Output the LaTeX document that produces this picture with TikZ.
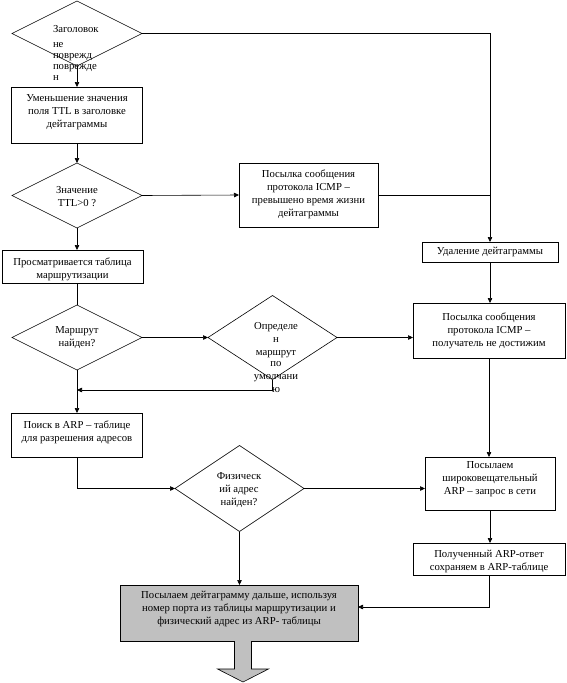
\documentclass[tikz,border=0pt]{standalone}
\usepackage{fontspec}
\setmainfont{Liberation Serif}
\usetikzlibrary{arrows.meta,shapes.geometric}
\begin{document}
\begin{tikzpicture}[x=1pt,y=-1pt,
  every node/.style={outer sep=0pt},
  txt/.style={font=\fontsize{10.7}{13}\selectfont, align=center, inner sep=0pt},
  ltxt/.style={font=\fontsize{10.7}{13}\selectfont, inner sep=0pt},
  box/.style={draw, line width=0.6pt, inner sep=0pt},
  dia/.style={draw, diamond, line width=0.6pt, inner sep=0pt},
  ln/.style={line width=0.6pt},
  arr/.style={line width=0.6pt, -{Triangle[length=5pt,width=4.5pt]}}]
\useasboundingbox (0,0) rectangle (566,683);
% diamonds
\node[dia, minimum width=130, minimum height=65] (d1) at (77,33.5) {};
\node[dia, minimum width=130, minimum height=65] (d2) at (77,195.5) {};
\node[dia, minimum width=130, minimum height=65] (d3) at (77,337.5) {};
\node[dia, minimum width=129, minimum height=84] (d4) at (272.5,337.5) {};
\node[dia, minimum width=129, minimum height=86] (d5) at (239.5,488.5) {};
% diamond texts
\node[ltxt, anchor=base west] (t1a) at (53,32.5) {Заголовок};
\node[ltxt, anchor=base west] (t1b) at (53,47.5) {не};
\node[ltxt, anchor=base west] (t1c) at (53,58.5) {поврежд};
\node[ltxt, anchor=base west] (t1d) at (53,69.5) {поврежде};
\node[ltxt, anchor=base west] (t1e) at (53,80.5) {н};
\node[txt] (t2) at (77,197) {Значение\\TTL>0 ?};
\node[txt] (t3) at (77,337.5) {Маршрут\\найден?};
\node[ltxt, anchor=base] (t4a) at (276,329.5) {Определе};
\node[ltxt, anchor=base] (t4b) at (276,342.5) {н};
\node[ltxt, anchor=base] (t4c) at (276,355) {маршрут};
\node[ltxt, anchor=base] (t4d) at (276,366.5) {по};
\node[ltxt, anchor=base] (t4e) at (276,379.5) {умолчани};
\node[ltxt, anchor=base] (t4f) at (276,392) {ю};
\node[txt] (t5) at (239,490.5) {Физическ\\ий адрес\\найден?};
% boxes
\node[box, minimum width=131, minimum height=56] (b1) at (77,115) {};
\node[box, minimum width=139, minimum height=64] (icmp1) at (308.5,195) {};
\node[box, minimum width=141, minimum height=33] (b2) at (72.5,266.5) {};
\node[box, minimum width=136, minimum height=20] (del) at (490,252) {};
\node[box, minimum width=152, minimum height=55] (icmp2) at (489,330.5) {};
\node[box, minimum width=131, minimum height=44] (b3) at (77,435) {};
\node[box, minimum width=130, minimum height=53] (arpb) at (490,483.5) {};
\node[box, minimum width=152, minimum height=32] (recv) at (489,559) {};
\node[box, fill={rgb,255:red,192;green,192;blue,192}, minimum width=238, minimum height=56] (gray) at (239,613) {};
% box texts
\node[txt] (tb1) at ([yshift=3pt]b1.center) {Уменьшение значения\\поля TTL в заголовке\\дейтаграммы};
\node[txt] (ti1) at ([yshift=1pt]icmp1.center) {Посылка сообщения\\протокола ICMP –\\превышено время жизни\\дейтаграммы};
\node[txt] (tb2) at ([yshift=-2.5pt]b2.center) {Просматривается таблица\\маршрутизации};
\node[txt] (tdel) at (del.center) {Удаление дейтаграммы};
\node[txt] (ti2) at (icmp2.center) {Посылка сообщения\\протокола ICMP –\\получатель не достижим};
\node[txt] (tb3) at ([yshift=3pt]b3.center) {Поиск в ARP – таблице\\для разрешения адресов};
\node[txt] (tarp) at ([yshift=4pt]arpb.center) {Посылаем\\широковещательный\\ARP – запрос в сети};
\node[txt] (trecv) at ([yshift=-2pt]recv.center) {Полученный ARP-ответ\\сохраняем в ARP-таблице};
\node[txt] (tgray) at ([yshift=4pt]gray.center) {Посылаем дейтаграмму дальше, используя\\номер порта из таблицы маршрутизации и\\физический адрес из ARP- таблицы};
% junction
\coordinate (j) at (77,390);
% connectors
\draw[arr] (d1.south) -- (d1.south |- b1.north);
\draw[arr] (d1.east) -| (del.north);
\draw[arr] (b1.south) -- (d2.north);
\draw[arr] (d2.east) -- (icmp1.west);
\draw[ln] (icmp1.east) -- (icmp1.east -| del.north);
\draw[arr] (d2.south) -- (d2.south |- b2.north);
\draw[ln] (d2.south |- b2.south) -- (d3.north);
\draw[arr] (d3.east) -- (d4.west);
\draw[arr] (d4.east) -- (d4.east -| icmp2.west);
\draw[arr] (del.south) -- (del.south |- icmp2.north);
\draw[arr] (d4.south) |- (j);
\draw[arr] (d3.south) -- (b3.north);
\draw[arr] (b3.south) |- (d5.west);
\draw[arr] (d5.east) -- (d5.east -| arpb.west);
\draw[arr] (icmp2.south) -- (icmp2.south |- arpb.north);
\draw[arr] (arpb.south) -- (arpb.south |- recv.north);
\draw[arr] (recv.south) |- ([yshift=6pt]gray.east);
\draw[arr] (d5.south) -- (d5.south |- gray.north);
% block arrow
\draw[line width=0.6pt, fill={rgb,255:red,192;green,192;blue,192}] ([xshift=-4.5pt]gray.south) -- ++(0,28) -- ++(-17,0) -- ++(25.5,13) -- ++(25.5,-13) -- ++(-17,0) -- ++(0,-28);
\end{tikzpicture}
\end{document}
